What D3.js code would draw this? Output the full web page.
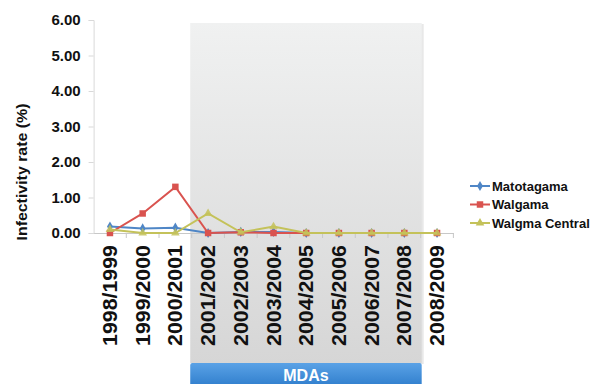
<!DOCTYPE html>
<html>
<head>
<meta charset="utf-8">
<script src="https://cdn.jsdelivr.net/npm/d3@7"></script>
<style>
  html, body { margin: 0; padding: 0; background: #fff; }
  svg { display: block; font-family: "Liberation Sans", Arial, sans-serif; }
</style>
</head>
<body>
<div id="chart"></div>
<script>
// seasons on the x axis
const seasons = ['1998/1999', '1999/2000', '2000/2001', '2001/2002', '2002/2003', '2003/2004',
                 '2004/2005', '2005/2006', '2006/2007', '2007/2008', '2008/2009'];
// infectivity rate (%) per village
const matotagama    = [0.18, 0.13, 0.15, 0.00, 0.03, 0.03, 0.00, 0.00, 0.00, 0.00, 0.00];
const walgama       = [0.00, 0.55, 1.30, 0.00, 0.02, 0.00, 0.00, 0.00, 0.00, 0.00, 0.00];
const walgmaCentral = [0.10, 0.00, 0.00, 0.55, 0.02, 0.18, 0.00, 0.00, 0.00, 0.00, 0.00];
const yTicks = [0, 1, 2, 3, 4, 5, 6];
// mass drug administration years (shaded)
const mdaFirst = '2001/2002', mdaLast = '2007/2008';

const series = [
    { name: 'Matotagama',    values: matotagama,    color: '#4f86c6', shape: 'diamond' },
    { name: 'Walgama',       values: walgama,       color: '#d9534f', shape: 'square' },
    { name: 'Walgma Central', values: walgmaCentral, color: '#c4c25a', shape: 'triangle' }
];

const W = 595, H = 384;
const svg = d3.select('#chart').append('svg').attr('width', W).attr('height', H);

const x = d3.scaleBand().domain(seasons).range([93.6, 453.4]);
const y = d3.scaleLinear().domain([0, 6]).range([233, 20]);
const cx = d => x(d) + x.bandwidth() / 2;

// ── MDA shaded region ─────────────────────────────────────────────
const defs = svg.append('defs');
const gGrey = defs.append('linearGradient').attr('id', 'grey').attr('x1', 0).attr('y1', 0).attr('x2', 0).attr('y2', 1);
gGrey.append('stop').attr('offset', '0%').attr('stop-color', '#f0f1f1');
gGrey.append('stop').attr('offset', '100%').attr('stop-color', '#d6d6d6');
const gBlue = defs.append('linearGradient').attr('id', 'blue').attr('x1', 0).attr('y1', 0).attr('x2', 0).attr('y2', 1);
gBlue.append('stop').attr('offset', '0%').attr('stop-color', '#5aa2e6');
gBlue.append('stop').attr('offset', '100%').attr('stop-color', '#2f7dcc');

const shadeX0 = x(mdaFirst) - 1.5, shadeX1 = x(mdaLast) + x.bandwidth() + 1;
svg.append('rect')
    .attr('x', shadeX0 + 2).attr('y', 24).attr('width', shadeX1 - shadeX0).attr('height', 340)
    .attr('fill', '#e8e8e8');
svg.append('rect')
    .attr('x', shadeX0).attr('y', 23).attr('width', shadeX1 - shadeX0).attr('height', 340)
    .attr('fill', 'url(#grey)');
svg.append('rect')
    .attr('x', shadeX0).attr('y', 363).attr('width', shadeX1 - shadeX0).attr('height', 24)
    .attr('rx', 2).attr('fill', 'url(#blue)');
svg.append('text')
    .attr('x', (shadeX0 + shadeX1) / 2).attr('y', 381)
    .attr('text-anchor', 'middle').attr('fill', '#fff')
    .style('font-size', '16px').style('font-weight', 'bold')
    .text('MDAs');

// ── Axes ──────────────────────────────────────────────────────────
const yAxis = svg.append('g').attr('transform', 'translate(93.6,0)')
    .call(d3.axisLeft(y).tickValues(yTicks).tickFormat(d3.format('.2f')).tickSize(5).tickPadding(8));
yAxis.select('.domain').attr('stroke', '#d9d9d9');
yAxis.selectAll('.tick line').attr('stroke', '#d9d9d9');
yAxis.selectAll('.tick text')
    .style('font-size', '15px').style('font-weight', 'bold').attr('fill', '#111');

const xAxis = svg.append('g').attr('transform', `translate(0,${y(0)})`)
    .call(d3.axisBottom(x).tickSize(0).tickFormat(''));
xAxis.select('.domain').attr('stroke', '#c8c8c8');
// ticks sit between categories
svg.append('g').selectAll('line')
    .data(seasons.slice(1).concat(['end']))
    .join('line')
    .attr('x1', (d, i) => x(seasons[0]) + x.bandwidth() * (i + 1))
    .attr('x2', (d, i) => x(seasons[0]) + x.bandwidth() * (i + 1))
    .attr('y1', y(0)).attr('y2', y(0) + 5)
    .attr('stroke', '#c8c8c8');

svg.append('g').selectAll('text')
    .data(seasons)
    .join('text')
    .attr('transform', d => `translate(${cx(d) + 7},245) rotate(-90)`)
    .attr('text-anchor', 'end')
    .attr('textLength', 101).attr('lengthAdjust', 'spacingAndGlyphs')
    .style('font-size', '20px').style('font-weight', 'bold').attr('fill', '#111')
    .text(d => d);

svg.append('text')
    .attr('transform', 'translate(27,172) rotate(-90)')
    .attr('text-anchor', 'middle')
    .attr('textLength', 137).attr('lengthAdjust', 'spacingAndGlyphs')
    .style('font-size', '15px').style('font-weight', 'bold').attr('fill', '#111')
    .text('Infectivity rate (%)');

// ── Series ────────────────────────────────────────────────────────
const line = d3.line().x((d, i) => cx(seasons[i])).y(d => y(d));
const symbolFor = s => s === 'diamond' ? d3.symbolDiamond : s === 'square' ? d3.symbolSquare : d3.symbolTriangle;
const symbolSize = s => s === 'diamond' ? 30 : s === 'square' ? 42 : 32;

series.forEach(s => {
    const g = svg.append('g');
    g.append('path').datum(s.values)
        .attr('d', line).attr('fill', 'none')
        .attr('stroke', s.color).attr('stroke-width', 2);
    g.selectAll('path.pt').data(s.values).join('path')
        .attr('class', 'pt')
        .attr('transform', (d, i) => `translate(${cx(seasons[i])},${y(d)})`)
        .attr('d', d3.symbol().type(symbolFor(s.shape)).size(symbolSize(s.shape)))
        .attr('fill', s.color)
        .attr('fill-opacity', s.shape === 'triangle' ? 0.85 : 1);
});

// ── Legend ────────────────────────────────────────────────────────
const legend = svg.append('g').attr('transform', 'translate(470,0)');
series.forEach((s, i) => {
    const ly = 186 + i * 18.5;
    legend.append('line').attr('x1', 0).attr('x2', 20).attr('y1', ly).attr('y2', ly)
        .attr('stroke', s.color).attr('stroke-width', 2);
    legend.append('path')
        .attr('transform', `translate(10,${ly})`)
        .attr('d', d3.symbol().type(symbolFor(s.shape)).size(symbolSize(s.shape)))
        .attr('fill', s.color);
    legend.append('text').attr('x', 22).attr('y', ly).attr('dy', '0.35em')
        .style('font-size', '13px').style('font-weight', 'bold').attr('fill', '#111')
        .text(s.name);
});
</script>
</body>
</html>
